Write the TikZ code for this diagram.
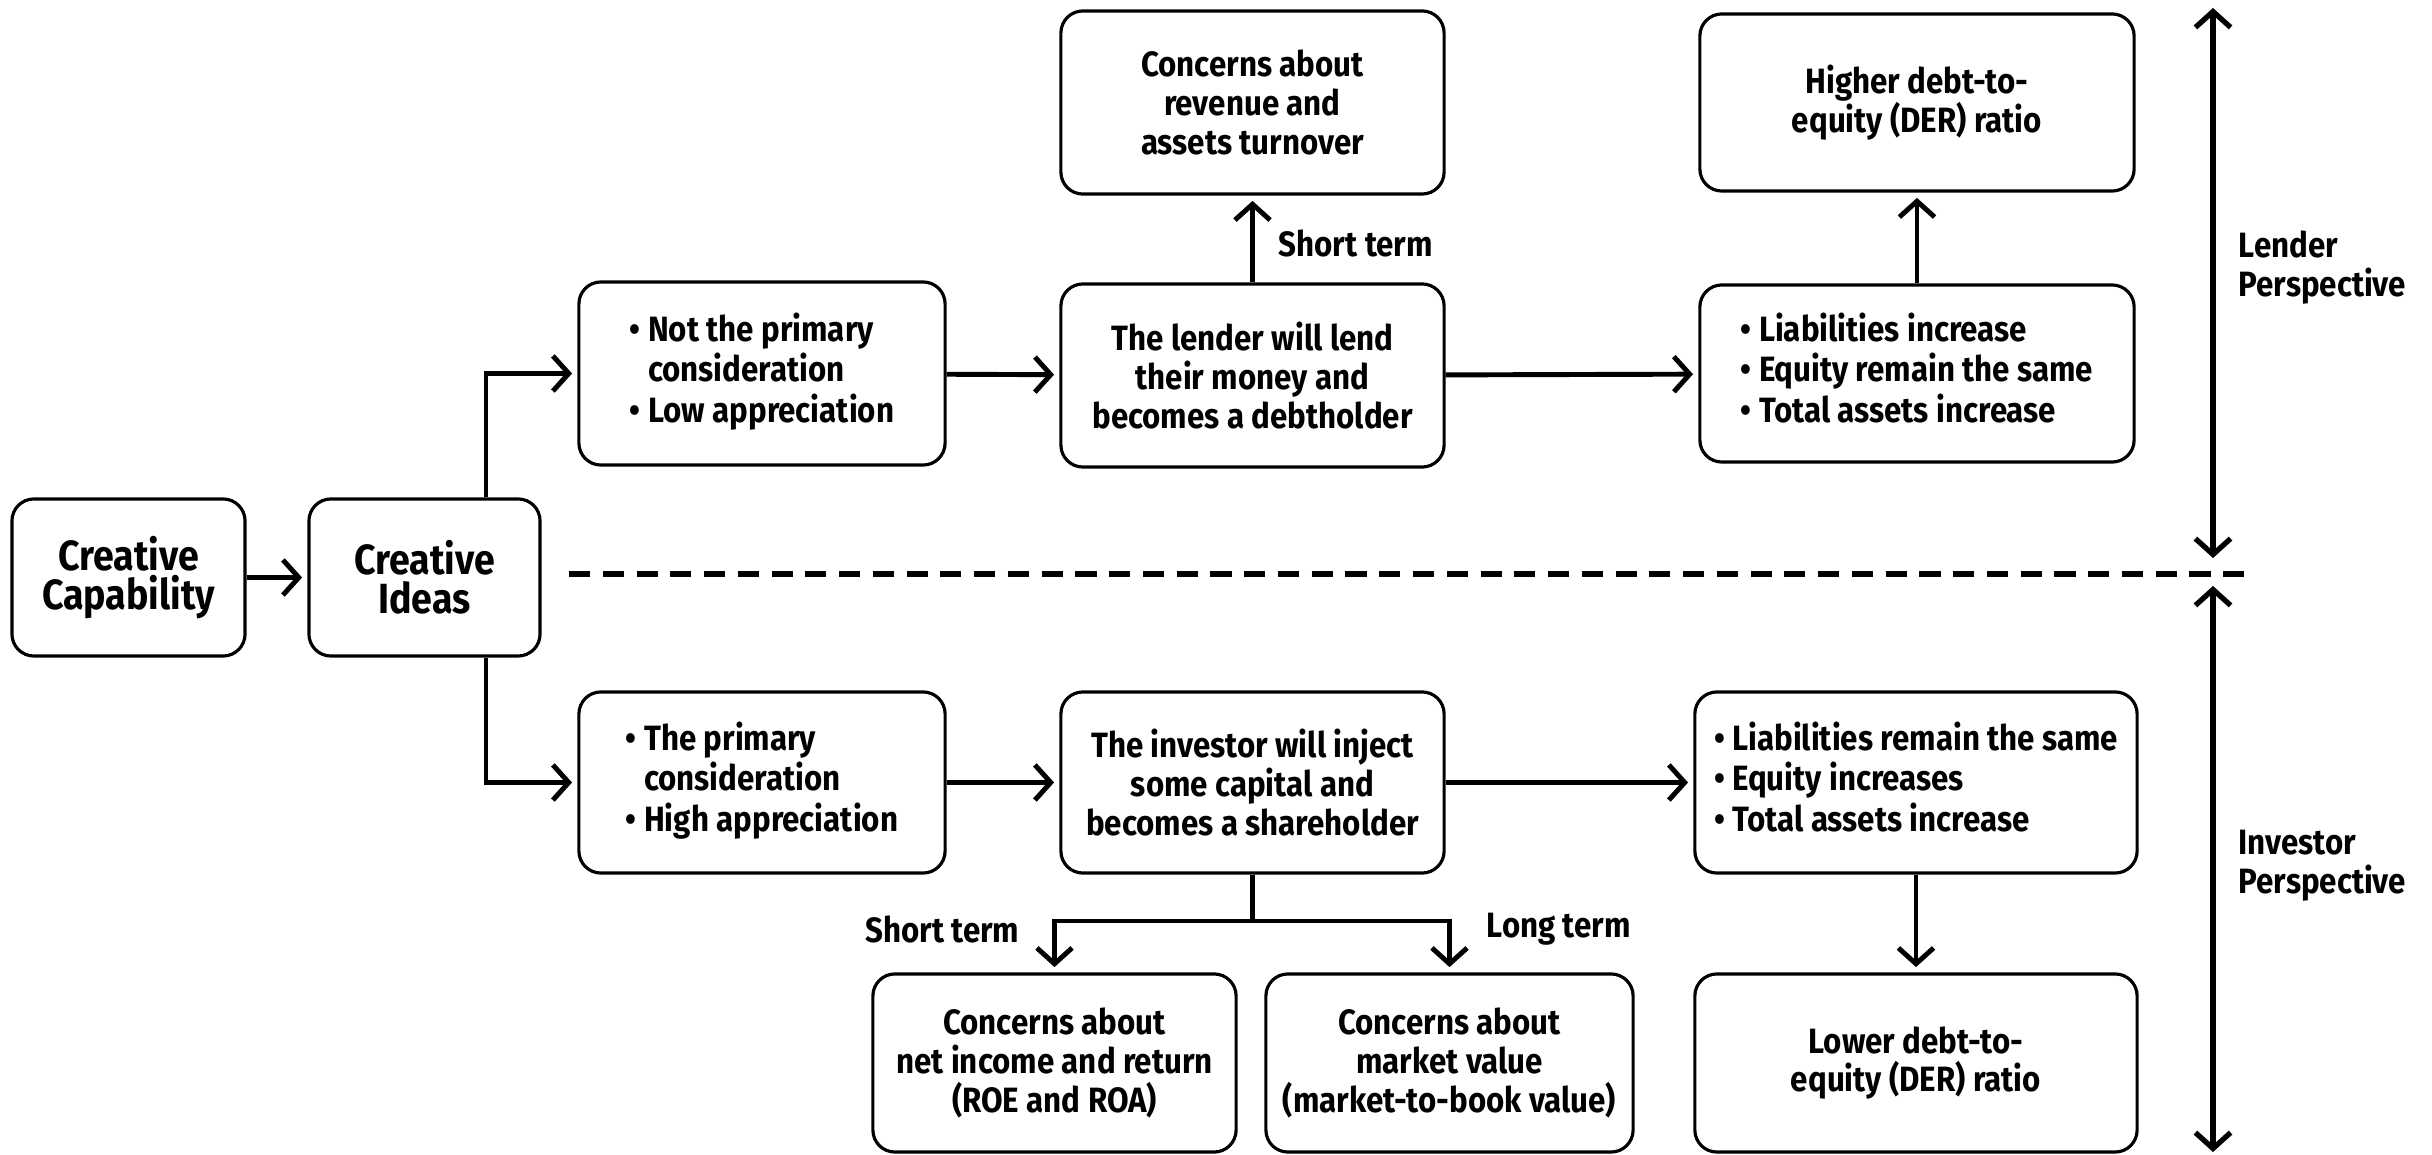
\documentclass[tikz,border=0pt]{standalone}
\usepackage{fontspec}
\setmainfont{Fira Sans}[FakeStretch=0.89]
\usetikzlibrary{arrows.meta}
\begin{document}
\begin{tikzpicture}[x=0.01cm,y=-0.01cm,
  box/.style={draw, line width=0.9pt, rounded corners=0.22cm, align=center, inner sep=2pt,
    font=\bfseries\fontsize{10}{11}\selectfont},
  bigbox/.style={box, font=\bfseries\fontsize{12}{11}\selectfont},
  arr/.style={line width=1.4pt, shorten >=1.5pt, -{Straight Barb[length=4.5pt,width=10pt]}},
  dbl/.style={line width=1.5pt, {Straight Barb[length=4.5pt,width=10pt]}-{Straight Barb[length=4.5pt,width=10pt]}},
  lbl/.style={font=\bfseries\fontsize{10}{11.1}\selectfont, align=left, inner sep=0pt},
]
\useasboundingbox (0,0) rectangle (2432,1155);

% nodes
\node[bigbox, minimum width=2.33cm, minimum height=1.57cm] (cc) at (128.5,577.5) {Creative\\Capability};
\node[bigbox, minimum width=2.31cm, minimum height=1.57cm] (ci) at (424.5,577.5) {Creative\\Ideas};

\node[box, minimum width=3.66cm, minimum height=1.83cm] (np) at (762,373.5)
  {\begin{tabular}{@{}l@{ }l@{}}\textbullet&Not the primary\\&consideration\\\textbullet&Low appreciation\end{tabular}};
\node[box, minimum width=3.83cm, minimum height=1.83cm] (ld) at (1252.5,375.5)
  {The lender will lend\\their money and\\becomes a debtholder};
\node[box, minimum width=3.83cm, minimum height=1.83cm] (cr) at (1252.5,102.5)
  {Concerns about\\revenue and\\assets turnover};
\node[box, minimum width=4.34cm, minimum height=1.77cm] (li) at (1917,373.5)
  {\begin{tabular}{@{}l@{ }l@{}}\textbullet&Liabilities increase\\\textbullet&Equity remain the same\\\textbullet&Total assets increase\end{tabular}};
\node[box, minimum width=4.34cm, minimum height=1.77cm] (hd) at (1917,102.5)
  {Higher debt-to-\\equity (DER) ratio};

\node[box, minimum width=3.66cm, minimum height=1.81cm] (pc) at (762,782.5)
  {\begin{tabular}{@{}l@{ }l@{}}\textbullet&The primary\\&consideration\\\textbullet&High appreciation\end{tabular}};
\node[box, minimum width=3.83cm, minimum height=1.81cm] (iv) at (1252.5,782.5)
  {The investor will inject\\some capital and\\becomes a shareholder};
\node[box, minimum width=4.42cm, minimum height=1.81cm] (lr) at (1916,782.5)
  {\begin{tabular}{@{}l@{ }l@{}}\textbullet&Liabilities remain the same\\\textbullet&Equity increases\\\textbullet&Total assets increase\end{tabular}};
\node[box, minimum width=4.42cm, minimum height=1.78cm] (lo) at (1916,1063)
  {Lower debt-to-\\equity (DER) ratio};
\node[box, minimum width=3.63cm, minimum height=1.78cm] (ni) at (1054.5,1063)
  {Concerns about\\net income and return\\(ROE and ROA)};
\node[box, minimum width=3.67cm, minimum height=1.78cm] (mv) at (1449.5,1063)
  {Concerns about\\market value\\(market-to-book value)};

% labels
\node[lbl, anchor=west] (st1) at (1278,243) {Short term};
\node[lbl, anchor=east] (st2) at (1020,929) {Short term};
\node[lbl, anchor=west] (lt) at (1486,929) {Long term};
\node[lbl, anchor=west] (lp) at (2238,268) {Lender\\Perspective};
\node[lbl, anchor=west] (ip) at (2238,866) {Investor\\Perspective};

% coordinates
\coordinate (bx) at (486,0);
\coordinate (splity) at (0,921);
\coordinate (sp) at (iv.south |- splity);
\coordinate (la1) at (2213,8);
\coordinate (la2) at (2213,558);
\coordinate (ia1) at (2213,586);
\coordinate (ia2) at (2213,1152);
\coordinate (d1) at (569,574);
\coordinate (d2) at (2249,574);

% connectors
\draw[arr] (cc) -- (ci);
\draw[arr] (ci.north -| bx) |- (np.west);
\draw[arr] (ci.south -| bx) |- (pc.west);
\draw[arr] (np) -- (ld);
\draw[arr] (ld) -- (li);
\draw[arr] (ld) -- (cr);
\draw[arr] (li) -- (hd);
\draw[arr] (pc) -- (iv);
\draw[arr] (iv) -- (lr);
\draw[arr] (lr) -- (lo);
\draw[line width=1.4pt] (iv.south) -- (sp);
\draw[arr] (sp) -| (ni.north);
\draw[arr] (sp) -| (mv.north);

\draw[dbl] (la1) -- (la2);
\draw[dbl] (ia1) -- (ia2);
\draw[line width=1.6pt, dash pattern=on 6pt off 3.6pt] (d1) -- (d2);
\end{tikzpicture}
\end{document}
